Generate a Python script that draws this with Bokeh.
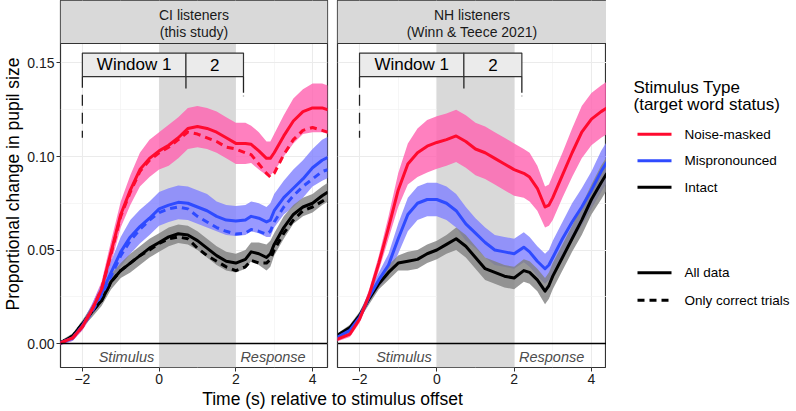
from bokeh.plotting import figure
from bokeh.layouts import row, column
from bokeh.models import Range1d, FixedTicker, NumeralTickFormatter, Span
from bokeh.embed import file_html
from bokeh.resources import INLINE
from bokeh.core.properties import value

# ---------------- data ----------------
time_s = [-2.6, -2.25, -2.0, -1.75, -1.5, -1.25, -1.0, -0.75, -0.5, -0.25, 0.0, 0.25, 0.5, 0.75,
          1.0, 1.25, 1.5, 1.75, 2.0, 2.25, 2.4, 2.6, 2.8, 2.9, 3.0, 3.25, 3.5, 3.75, 4.0, 4.25, 4.4]

# CI listeners (this study)
ci_noise_all = [0.0, 0.003, 0.009, 0.018, 0.029, 0.049, 0.069, 0.082, 0.093, 0.099, 0.103, 0.106, 0.110, 0.115,
                0.116, 0.115, 0.113, 0.110, 0.107, 0.107, 0.1065, 0.103, 0.099, 0.099, 0.102, 0.111, 0.119, 0.124, 0.126, 0.126, 0.125]
ci_noise_correct = [0.0, 0.003, 0.009, 0.018, 0.029, 0.048, 0.068, 0.081, 0.092, 0.098, 0.102, 0.105, 0.109, 0.113,
                    0.112, 0.110, 0.108, 0.105, 0.104, 0.102, 0.101, 0.096, 0.091, 0.089, 0.091, 0.101, 0.109, 0.114, 0.1155, 0.114, 0.113]
ci_noise_hw = [0.001, 0.0015, 0.002, 0.003, 0.004, 0.006, 0.007, 0.008, 0.009, 0.010, 0.010, 0.011, 0.011, 0.011,
               0.011, 0.011, 0.011, 0.011, 0.011, 0.011, 0.010, 0.010, 0.009, 0.009, 0.010, 0.011, 0.012, 0.012, 0.013, 0.013, 0.013]

ci_mis_all = [0.0, 0.003, 0.0095, 0.018, 0.027, 0.038, 0.049, 0.057, 0.0625, 0.067, 0.072, 0.074, 0.0755, 0.075,
              0.073, 0.071, 0.068, 0.066, 0.0655, 0.066, 0.068, 0.067, 0.065, 0.066, 0.071, 0.078, 0.083, 0.088, 0.094, 0.098, 0.0995]
ci_mis_correct = [0.0, 0.003, 0.009, 0.017, 0.026, 0.036, 0.047, 0.055, 0.061, 0.066, 0.070, 0.072, 0.073, 0.072,
                  0.068, 0.065, 0.062, 0.060, 0.0585, 0.059, 0.061, 0.060, 0.0585, 0.060, 0.065, 0.073, 0.079, 0.084, 0.088, 0.092, 0.093]
ci_mis_hw = [0.001, 0.0015, 0.002, 0.003, 0.005, 0.006, 0.008, 0.009, 0.009, 0.009, 0.009, 0.009, 0.009, 0.009,
             0.009, 0.009, 0.008, 0.008, 0.008, 0.008, 0.008, 0.008, 0.008, 0.009, 0.009, 0.009, 0.010, 0.010, 0.010, 0.011, 0.011]

ci_int_all = [0.0, 0.004, 0.0105, 0.017, 0.023, 0.033, 0.039, 0.043, 0.047, 0.051, 0.054, 0.057, 0.0587, 0.058,
              0.055, 0.051, 0.047, 0.044, 0.043, 0.045, 0.049, 0.048, 0.046, 0.048, 0.053, 0.062, 0.069, 0.073, 0.075, 0.079, 0.081]
ci_int_correct = [0.0, 0.004, 0.0105, 0.017, 0.023, 0.033, 0.039, 0.043, 0.047, 0.050, 0.0535, 0.056, 0.057, 0.056,
                  0.051, 0.047, 0.044, 0.041, 0.039, 0.041, 0.0445, 0.043, 0.043, 0.045, 0.050, 0.059, 0.066, 0.071, 0.073, 0.076, 0.078]
ci_int_hw = [0.001, 0.0015, 0.002, 0.003, 0.003, 0.004, 0.004, 0.005, 0.005, 0.005, 0.005, 0.005, 0.005, 0.005,
             0.005, 0.005, 0.005, 0.005, 0.005, 0.005, 0.005, 0.006, 0.007, 0.007, 0.006, 0.006, 0.005, 0.005, 0.005, 0.005, 0.005]

# NH listeners (Winn & Teece 2021)
nh_noise = [0.002, 0.005, 0.013, 0.026, 0.043, 0.062, 0.082, 0.096, 0.102, 0.1055, 0.1075, 0.109, 0.111, 0.108,
            0.104, 0.102, 0.099, 0.096, 0.093, 0.091, 0.089, 0.083, 0.073, 0.074, 0.078, 0.090, 0.102, 0.113, 0.120, 0.124, 0.126]
nh_noise_hw = [0.001, 0.0015, 0.002, 0.003, 0.004, 0.006, 0.009, 0.011, 0.013, 0.014, 0.014, 0.014, 0.014, 0.014,
               0.014, 0.014, 0.014, 0.014, 0.014, 0.013, 0.013, 0.012, 0.011, 0.011, 0.012, 0.012, 0.013, 0.014, 0.014, 0.014, 0.014]
nh_mis = [0.003, 0.007, 0.014, 0.025, 0.034, 0.042, 0.056, 0.069, 0.075, 0.077, 0.077, 0.075, 0.071, 0.064,
          0.059, 0.054, 0.050, 0.049, 0.048, 0.0515, 0.049, 0.044, 0.040, 0.042, 0.046, 0.056, 0.065, 0.073, 0.082, 0.092, 0.097]
nh_mis_hw = [0.001, 0.0015, 0.002, 0.003, 0.004, 0.006, 0.008, 0.009, 0.009, 0.009, 0.009, 0.009, 0.009, 0.009,
             0.008, 0.008, 0.008, 0.008, 0.008, 0.008, 0.008, 0.008, 0.008, 0.008, 0.009, 0.009, 0.010, 0.010, 0.010, 0.011, 0.011]
nh_int = [0.004, 0.0085, 0.015, 0.024, 0.032, 0.038, 0.043, 0.044, 0.045, 0.048, 0.050, 0.053, 0.056, 0.052,
          0.046, 0.040, 0.038, 0.036, 0.035, 0.039, 0.038, 0.034, 0.028, 0.031, 0.036, 0.046, 0.056, 0.066, 0.077, 0.086, 0.091]
nh_int_hw = [0.001, 0.0015, 0.002, 0.003, 0.003, 0.004, 0.004, 0.005, 0.005, 0.005, 0.005, 0.005, 0.006, 0.006,
             0.006, 0.006, 0.006, 0.006, 0.006, 0.006, 0.006, 0.006, 0.007, 0.007, 0.007, 0.007, 0.007, 0.008, 0.008, 0.009, 0.009]

groups = ["Noise-masked", "Mispronounced", "Intact"]
linetype_labels = ["All data", "Only correct trials"]
panel_titles = [["CI listeners", "(this study)"], ["NH listeners", "(Winn & Teece 2021)"]]
x_ticks = [-2, 0, 2, 4]
x_tick_labels = ["\u22122", "0", "2", "4"]
x_minor = [-1, 1, 3]
y_ticks = [0.0, 0.05, 0.10, 0.15]
y_minor = [0.025, 0.075, 0.125]
stim_window = [0.0, 2.0]
window_start = [-2.0, 0.7]
window_end = [0.7, 2.2]
window_labels = ["Window 1", "2"]
phase_labels = ["Stimulus", "Response"]
phase_x = [-0.85, 2.97]

panels = [
    {"Noise-masked": (ci_noise_all, ci_noise_correct, ci_noise_hw),
     "Mispronounced": (ci_mis_all, ci_mis_correct, ci_mis_hw),
     "Intact": (ci_int_all, ci_int_correct, ci_int_hw)},
    {"Noise-masked": (nh_noise, None, nh_noise_hw),
     "Mispronounced": (nh_mis, None, nh_mis_hw),
     "Intact": (nh_int, None, nh_int_hw)},
]

# ---------------- style / layout ----------------
FONT_NAME = "Liberation Sans"
FONT = value(FONT_NAME)
LINE_COL = {"Noise-masked": "#FF0A2E", "Mispronounced": "#2F4BFF", "Intact": "#000000"}
RIB_COL = {"Noise-masked": "#FF60AF", "Mispronounced": "#8080FF", "Intact": "#808080"}
RIB_ALPHA = 0.8
DASH = "7 5"

XMIN, XMAX = -2.57, 4.39
YMIN, YTOP = -0.01283, 0.18342
PANEL_TOP = 0.16043
FRAME_W = 269
BOTTOM = 20
H = 387
BOX_BOT, BOX_TOP = 0.1427, 0.1553


def make_panel(idx, left_border, right_border, show_y):
    p = figure(width=left_border + FRAME_W + right_border, height=H,
               x_range=Range1d(XMIN, XMAX), y_range=Range1d(YMIN, YTOP),
               output_backend="svg", toolbar_location=None,
               min_border_left=left_border, min_border_right=right_border,
               min_border_top=0, min_border_bottom=BOTTOM)
    p.background_fill_color = "white"
    p.border_fill_color = "white"
    p.outline_line_color = "#333333"
    p.outline_line_width = 1.2

    xt = FixedTicker(ticks=x_ticks, minor_ticks=x_minor)
    yt = FixedTicker(ticks=y_ticks, minor_ticks=y_minor)
    p.xaxis.ticker = xt
    p.xgrid.ticker = xt
    p.yaxis.ticker = yt
    p.ygrid.ticker = yt
    for g in (p.xgrid, p.ygrid):
        g.grid_line_color = "#EBEBEB"
        g.grid_line_width = 1.1
        g.minor_grid_line_color = "#F2F2F2"
        g.minor_grid_line_width = 0.7

    p.xaxis.major_label_overrides = dict(zip(x_ticks, x_tick_labels))
    p.yaxis.formatter = NumeralTickFormatter(format="0.00")
    for ax in (p.xaxis, p.yaxis):
        ax.axis_line_color = None
        ax.major_tick_line_color = "#333333"
        ax.major_tick_in = 0
        ax.major_tick_out = 4
        ax.minor_tick_line_color = None
        ax.major_label_text_font = FONT_NAME
        ax.major_label_text_font_size = "14px"
        ax.major_label_text_color = "#1A1A1A"
        ax.major_label_standoff = 2
    if show_y:
        p.yaxis.axis_label = "Proportional change in pupil size"
        p.yaxis.axis_label_text_font = FONT_NAME
        p.yaxis.axis_label_text_font_size = "17.5px"
        p.yaxis.axis_label_text_font_style = "normal"
        p.yaxis.axis_label_text_color = "#000000"
        p.yaxis.axis_label_standoff = 1
    else:
        p.yaxis.visible = False

    # stimulus-offset shading (0 to 2 s)
    p.quad(left=[stim_window[0]], right=[stim_window[1]], bottom=[YMIN], top=[PANEL_TOP],
           fill_color="#D9D9D9", line_color=None)

    data = panels[idx]
    for g in groups:
        y, yc, hw = data[g]
        lo = [a - b for a, b in zip(y, hw)]
        hi = [a + b for a, b in zip(y, hw)]
        p.varea(x=time_s, y1=lo, y2=hi, fill_color=RIB_COL[g], fill_alpha=RIB_ALPHA)
    for g in reversed(groups):
        y, yc, hw = data[g]
        p.line(time_s, y, line_color=LINE_COL[g], line_width=3, line_join="round")
        if yc is not None:
            p.line(time_s, yc, line_color=LINE_COL[g], line_width=3, line_dash=DASH, line_join="round")

    # zero line and phase labels
    p.add_layout(Span(location=0, dimension="width", line_color="#000000", line_width=1.3))
    p.text(x=phase_x, y=[-0.0071] * 2, text=phase_labels, text_font=FONT, text_font_style="italic",
           text_font_size="14.5px", text_color="#4D4D4D", text_align="center", text_baseline="middle")

    # analysis windows
    p.quad(left=window_start, right=window_end, bottom=[BOX_BOT] * 2, top=[BOX_TOP] * 2,
           fill_color="#EBEBEB", line_color="#333333", line_width=1.2)
    p.text(x=[(a + b) / 2 for a, b in zip(window_start, window_end)], y=[(BOX_BOT + BOX_TOP) / 2] * 2,
           text=window_labels, text_font=FONT, text_font_size="17px", text_color="#000000",
           text_align="center", text_baseline="middle")
    p.segment(x0=[window_start[0]], x1=[window_start[0]], y0=[BOX_BOT], y1=[0.110],
              line_color="#222222", line_width=1.3, line_dash="11 7")
    p.segment(x0=[window_end[0]], x1=[window_end[0]], y0=[BOX_BOT], y1=[0.1363],
              line_color="#222222", line_width=1.3)
    p.segment(x0=[window_end[1]], x1=[window_end[1]], y0=[BOX_BOT], y1=[0.1322],
              line_color="#222222", line_width=1.3, line_dash="16 3 1 40")

    # facet strip
    p.quad(left=[XMIN], right=[XMAX], bottom=[PANEL_TOP], top=[YTOP], fill_color="#D9D9D9", line_color=None)
    p.add_layout(Span(location=PANEL_TOP, dimension="width", line_color="#333333", line_width=1.2))
    xc = (XMIN + XMAX) / 2
    p.text(x=[xc, xc], y=[0.1754, 0.1665], text=panel_titles[idx], text_font=FONT, text_font_size="14px",
           text_color="#1A1A1A", text_align="center", text_baseline="middle")
    return p


p1 = make_panel(0, 58, 5, True)
p2 = make_panel(1, 5, 0, False)

TOTAL_W = 795
# ---------------- legend panel ----------------
LEG_W = TOTAL_W - p1.width - p2.width
leg = figure(width=LEG_W, height=H, x_range=Range1d(0, LEG_W), y_range=Range1d(H, 0),
             output_backend="svg", toolbar_location=None, min_border=0)
leg.axis.visible = False
leg.grid.visible = False
leg.outline_line_color = None
leg.text(x=[27, 27], y=[92, 110], text=["Stimulus Type", "(target word status)"], text_font=FONT,
         text_font_size="17px", text_color="#000000", text_baseline="middle", text_align="left")
item_y = [141, 169, 197]
leg.segment(x0=[31] * 3, x1=[65] * 3, y0=item_y, y1=item_y, line_color=[LINE_COL[g] for g in groups], line_width=3)
leg.text(x=[78] * 3, y=item_y, text=groups, text_font=FONT, text_font_size="13.5px", text_color="#000000",
         text_baseline="middle", text_align="left")
lt_y = [287, 316]
leg.segment(x0=[31], x1=[65], y0=[lt_y[0]], y1=[lt_y[0]], line_color="#000000", line_width=3)
leg.segment(x0=[31], x1=[65], y0=[lt_y[1]], y1=[lt_y[1]], line_color="#000000", line_width=3, line_dash=DASH)
leg.text(x=[78] * 2, y=lt_y, text=linetype_labels, text_font=FONT, text_font_size="13.5px", text_color="#000000",
         text_baseline="middle", text_align="left")

# ---------------- x-axis title ----------------
XT_H = 23
xt_fig = figure(width=TOTAL_W, height=XT_H, x_range=Range1d(0, TOTAL_W), y_range=Range1d(XT_H, 0),
                output_backend="svg", toolbar_location=None, min_border=0)
xt_fig.axis.visible = False
xt_fig.grid.visible = False
xt_fig.outline_line_color = None
xt_fig.text(x=[(p1.width - 5 + p1.width + 5) / 2], y=[11], text=["Time (s) relative to stimulus offset"],
            text_font=FONT, text_font_size="17.5px", text_color="#000000", text_align="center",
            text_baseline="middle")

layout = column(row(p1, p2, leg), xt_fig)
open("out.html", "w").write(file_html(layout, INLINE))
